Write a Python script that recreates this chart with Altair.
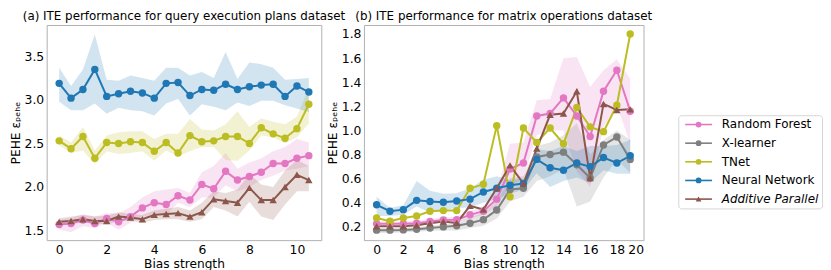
import altair as alt
import pandas as pd

FONT = "DejaVu Sans"

series_names = ["Random Forest", "X-learner", "TNet", "Neural Network", "Additive Parallel"]
series_colors = ["#e377c2", "#7f7f7f", "#bcbd22", "#1f77b4", "#8c564b"]

# ---- panel (a): query execution plans ----
left_x = [0.0, 0.5, 1.0, 1.5, 2.0, 2.5, 3.0, 3.5, 4.0, 4.5, 5.0, 5.5, 6.0, 6.5, 7.0, 7.5,
          8.0, 8.5, 9.0, 9.5, 10.0, 10.5]
left_nn = [3.19, 3.02, 3.12, 3.35, 3.04, 3.07, 3.10, 3.08, 3.02, 3.19, 3.20, 3.05, 3.12, 3.11,
           3.18, 3.12, 3.15, 3.17, 3.18, 3.04, 3.16, 3.09]
left_nn_lo = [2.98, 2.88, 2.88, 2.96, 2.84, 2.91, 2.88, 2.87, 2.82, 2.96, 3.01, 2.82, 2.95, 2.92,
              2.88, 2.97, 2.93, 2.99, 2.99, 2.94, 2.90, 2.86]
left_nn_hi = [3.37, 3.16, 3.35, 3.75, 3.23, 3.22, 3.28, 3.25, 3.22, 3.37, 3.37, 3.28, 3.32, 3.25,
              3.55, 3.24, 3.43, 3.41, 3.37, 3.23, 3.24, 3.25]
left_tnet = [2.53, 2.44, 2.58, 2.33, 2.51, 2.50, 2.52, 2.51, 2.41, 2.51, 2.39, 2.59, 2.52, 2.53,
             2.58, 2.58, 2.50, 2.68, 2.61, 2.56, 2.67, 2.95]
left_tnet_lo = [2.48, 2.39, 2.42, 2.26, 2.41, 2.38, 2.39, 2.41, 2.30, 2.42, 2.35, 2.41, 2.46, 2.46,
                2.31, 2.30, 2.42, 2.59, 2.57, 2.50, 2.57, 2.73]
left_tnet_hi = [2.59, 2.51, 2.69, 2.42, 2.59, 2.63, 2.64, 2.64, 2.55, 2.61, 2.61, 2.78, 2.66, 2.65,
                2.72, 2.87, 2.69, 2.79, 2.75, 2.72, 2.81, 3.14]
left_rf = [1.57, 1.58, 1.62, 1.58, 1.64, 1.60, 1.66, 1.76, 1.82, 1.80, 1.90, 1.85, 2.03, 1.98,
           2.18, 2.08, 2.12, 2.17, 2.27, 2.27, 2.33, 2.36]
left_rf_lo = [1.51, 1.48, 1.55, 1.53, 1.59, 1.51, 1.59, 1.66, 1.69, 1.68, 1.82, 1.77, 1.88, 1.88,
              2.02, 1.95, 2.00, 2.08, 2.13, 2.19, 2.21, 2.24]
left_rf_hi = [1.62, 1.64, 1.69, 1.66, 1.70, 1.70, 1.77, 1.88, 1.95, 1.97, 1.99, 1.93, 2.17, 2.24,
              2.39, 2.21, 2.28, 2.33, 2.41, 2.46, 2.55, 2.51]
left_ap = [1.60, 1.61, 1.63, 1.61, 1.61, 1.66, 1.65, 1.63, 1.68, 1.69, 1.70, 1.66, 1.71, 1.86,
           1.84, 1.82, 1.99, 1.85, 1.85, 2.00, 2.14, 2.08]
left_ap_lo = [1.57, 1.58, 1.59, 1.58, 1.57, 1.61, 1.61, 1.59, 1.62, 1.63, 1.63, 1.60, 1.63, 1.77,
              1.73, 1.66, 1.83, 1.66, 1.62, 1.80, 1.95, 1.95]
left_ap_hi = [1.64, 1.66, 1.68, 1.66, 1.67, 1.71, 1.69, 1.68, 1.73, 1.75, 1.77, 1.73, 1.82, 1.95,
              1.93, 1.97, 2.15, 2.03, 2.00, 2.19, 2.31, 2.24]

# ---- panel (b): matrix operations ----
right_x = list(range(20))
right_rf = [0.226, 0.226, 0.226, 0.23, 0.244, 0.257, 0.26, 0.30, 0.33, 0.43, 0.68, 0.73, 1.12, 1.14,
            1.27, 1.12, 0.95, 1.325, 1.50, 1.16]
right_rf_lo = [0.21, 0.21, 0.21, 0.215, 0.225, 0.235, 0.24, 0.27, 0.30, 0.37, 0.54, 0.60, 0.96, 1.0,
               1.0, 0.66, 0.53, 1.03, 1.21, 0.89]
right_rf_hi = [0.245, 0.245, 0.245, 0.25, 0.265, 0.28, 0.285, 0.33, 0.37, 0.50, 0.89, 0.90, 1.25, 1.26,
               1.6, 1.61, 1.36, 1.5, 1.59, 1.43]
right_xl = [0.173, 0.173, 0.175, 0.18, 0.19, 0.20, 0.21, 0.23, 0.26, 0.34, 0.51, 0.52, 0.78, 0.80,
            0.82, 0.715, 0.605, 0.88, 0.945, 0.76]
right_xl_lo = [0.15, 0.15, 0.155, 0.16, 0.165, 0.17, 0.17, 0.19, 0.21, 0.27, 0.41, 0.45, 0.58, 0.62,
               0.68, 0.37, 0.41, 0.61, 0.76, 0.65]
right_xl_hi = [0.19, 0.19, 0.195, 0.20, 0.21, 0.22, 0.24, 0.28, 0.32, 0.41, 0.605, 0.62, 0.87, 0.90,
               0.96, 1.06, 0.80, 0.92, 1.0, 0.92]
right_tnet = [0.273, 0.247, 0.273, 0.29, 0.33, 0.335, 0.335, 0.52, 0.553, 1.04, 0.45, 1.02, 0.90,
              1.02, 0.89, 1.19, 1.03, 0.99, 1.21, 1.80]
right_nn = [0.383, 0.33, 0.343, 0.42, 0.41, 0.405, 0.415, 0.43, 0.49, 0.52, 0.545, 0.56, 0.76, 0.69,
            0.67, 0.73, 0.70, 0.775, 0.73, 0.79]
right_nn_lo = [0.29, 0.29, 0.30, 0.37, 0.32, 0.34, 0.357, 0.36, 0.40, 0.43, 0.475, 0.51, 0.645, 0.53,
               0.58, 0.61, 0.565, 0.67, 0.64, 0.64]
right_nn_hi = [0.45, 0.357, 0.38, 0.58, 0.50, 0.475, 0.48, 0.52, 0.59, 0.62, 0.59, 0.60, 0.846, 0.83,
               0.87, 0.83, 0.87, 0.87, 0.88, 0.92]
right_ap = [0.205, 0.205, 0.205, 0.213, 0.23, 0.244, 0.233, 0.375, 0.344, 0.52, 0.71, 0.56, 0.85,
            1.13, 1.14, 1.325, 0.605, 1.22, 1.17, 1.175]


def rows(xs, name, mean, lo=None, hi=None):
    out = []
    for i, x in enumerate(xs):
        out.append({"x": x, "series": name, "mean": mean[i],
                    "lo": lo[i] if lo else None, "hi": hi[i] if hi else None})
    return out


left_df = pd.DataFrame(
    rows(left_x, "Random Forest", left_rf, left_rf_lo, left_rf_hi)
    + rows(left_x, "TNet", left_tnet, left_tnet_lo, left_tnet_hi)
    + rows(left_x, "Neural Network", left_nn, left_nn_lo, left_nn_hi)
    + rows(left_x, "Additive Parallel", left_ap, left_ap_lo, left_ap_hi)
)
right_df = pd.DataFrame(
    rows(right_x, "Random Forest", right_rf, right_rf_lo, right_rf_hi)
    + rows(right_x, "X-learner", right_xl, right_xl_lo, right_xl_hi)
    + rows(right_x, "TNet", right_tnet)
    + rows(right_x, "Neural Network", right_nn, right_nn_lo, right_nn_hi)
    + rows(right_x, "Additive Parallel", right_ap)
)

color_scale = alt.Scale(domain=series_names, range=series_colors)
shape_scale = alt.Scale(domain=series_names,
                        range=["circle", "circle", "circle", "circle", "triangle-up"])


def panel(df, title, xdom, xticks, ydom, yticks, width):
    base = alt.Chart(df)
    xenc = alt.X("x:Q", scale=alt.Scale(domain=xdom, nice=False, zero=False),
                 axis=alt.Axis(values=xticks, title="Bias strength", format="d"))
    yaxis = alt.Axis(values=yticks, title="PEHE εₚₑₕₑ", format=".1f")
    yscale = alt.Scale(domain=ydom, nice=False, zero=False)
    band = base.transform_filter("isValid(datum.lo)").mark_area(opacity=0.2).encode(
        x=xenc,
        y=alt.Y("lo:Q", scale=yscale, axis=yaxis),
        y2="hi:Q",
        fill=alt.Fill("series:N", scale=color_scale, legend=None),
        detail="series:N",
    )
    line = base.mark_line(strokeWidth=2).encode(
        x=xenc,
        y=alt.Y("mean:Q", scale=yscale, axis=yaxis),
        stroke=alt.Stroke("series:N", scale=color_scale, legend=None),
        detail="series:N",
    )
    pts = base.mark_point(filled=True, size=56, opacity=1).encode(
        x=xenc,
        y=alt.Y("mean:Q", scale=yscale, axis=yaxis),
        color=alt.Color("series:N", scale=color_scale, legend=None),
        shape=alt.Shape("series:N", scale=shape_scale, legend=None),
    )
    return alt.layer(band, line, pts).properties(
        width=width, height=217,
        title=alt.Title(title, fontSize=12, font=FONT, fontWeight="normal", offset=2, color="black"),
    )


left = panel(left_df, "(a) ITE performance for query execution plans dataset",
             [-0.525, 11.025], [0, 2, 4, 6, 8, 10], [1.39, 3.86], [1.5, 2.0, 2.5, 3.0, 3.5], 277)
right = panel(right_df, "(b) ITE performance for matrix operations dataset",
              [-0.95, 20.0], list(range(0, 21, 2)), [0.09, 1.875],
              [0.2, 0.4, 0.6, 0.8, 1.0, 1.2, 1.4, 1.6, 1.8], 282)

# ---- legend box (built from the series list) ----
leg_df = pd.DataFrame({"series": series_names})
leg_base = alt.Chart(leg_df)
leg_y = alt.Y("series:N", scale=alt.Scale(domain=series_names), axis=None)
leg_rule = leg_base.mark_rule(strokeWidth=1.6).encode(
    x=alt.value(7), x2=alt.value(34), y=leg_y,
    color=alt.Color("series:N", scale=color_scale, legend=None),
)
leg_pts = leg_base.mark_point(filled=True, size=34, opacity=1).encode(
    x=alt.value(20.5), y=leg_y,
    color=alt.Color("series:N", scale=color_scale, legend=None),
    shape=alt.Shape("series:N", scale=shape_scale, legend=None),
)
leg_txt = leg_base.transform_filter("datum.series != 'Additive Parallel'").mark_text(
    align="left", baseline="middle", fontSize=12, font=FONT, color="black"
).encode(x=alt.value(44), y=leg_y, text="series:N")
leg_txt_it = leg_base.transform_filter("datum.series == 'Additive Parallel'").mark_text(
    align="left", baseline="middle", fontSize=12, font=FONT, color="black", fontStyle="italic"
).encode(x=alt.value(44), y=leg_y, text="series:N")
legend_box = alt.layer(leg_rule, leg_pts, leg_txt, leg_txt_it).properties(
    width=145, height=94,
    view=alt.ViewBackground(stroke="#d6d6d6", strokeWidth=1, cornerRadius=3, fill="white"),
)
spacer = alt.Chart(pd.DataFrame({"series": [""]})).mark_point(opacity=0).encode(
    x=alt.value(0), y=alt.value(0)
).properties(width=145, height=89, view=alt.ViewBackground(stroke="transparent"))
legend_col = alt.vconcat(spacer, legend_box, spacing=0)

chart = alt.hconcat(
    left, alt.hconcat(right, legend_col, spacing=35, bounds="flush"),
    spacing=43, bounds="flush"
).properties(
    padding={"left": 0, "top": 0, "right": 0, "bottom": 0}
).configure_view(
    stroke="#b0b0b0", strokeWidth=1
).configure_axis(
    domain=False, ticks=False, grid=False,
    labelFont=FONT, labelFontSize=12.5, labelColor="black", labelPadding=3,
    titleFont=FONT, titleFontSize=12.3, titleFontWeight="normal", titleColor="black",
    titlePadding=2,
).configure_axisX(titlePadding=2).configure_concat(spacing=0)

chart.save("out.html", embed_options={"renderer": "svg", "actions": False})
